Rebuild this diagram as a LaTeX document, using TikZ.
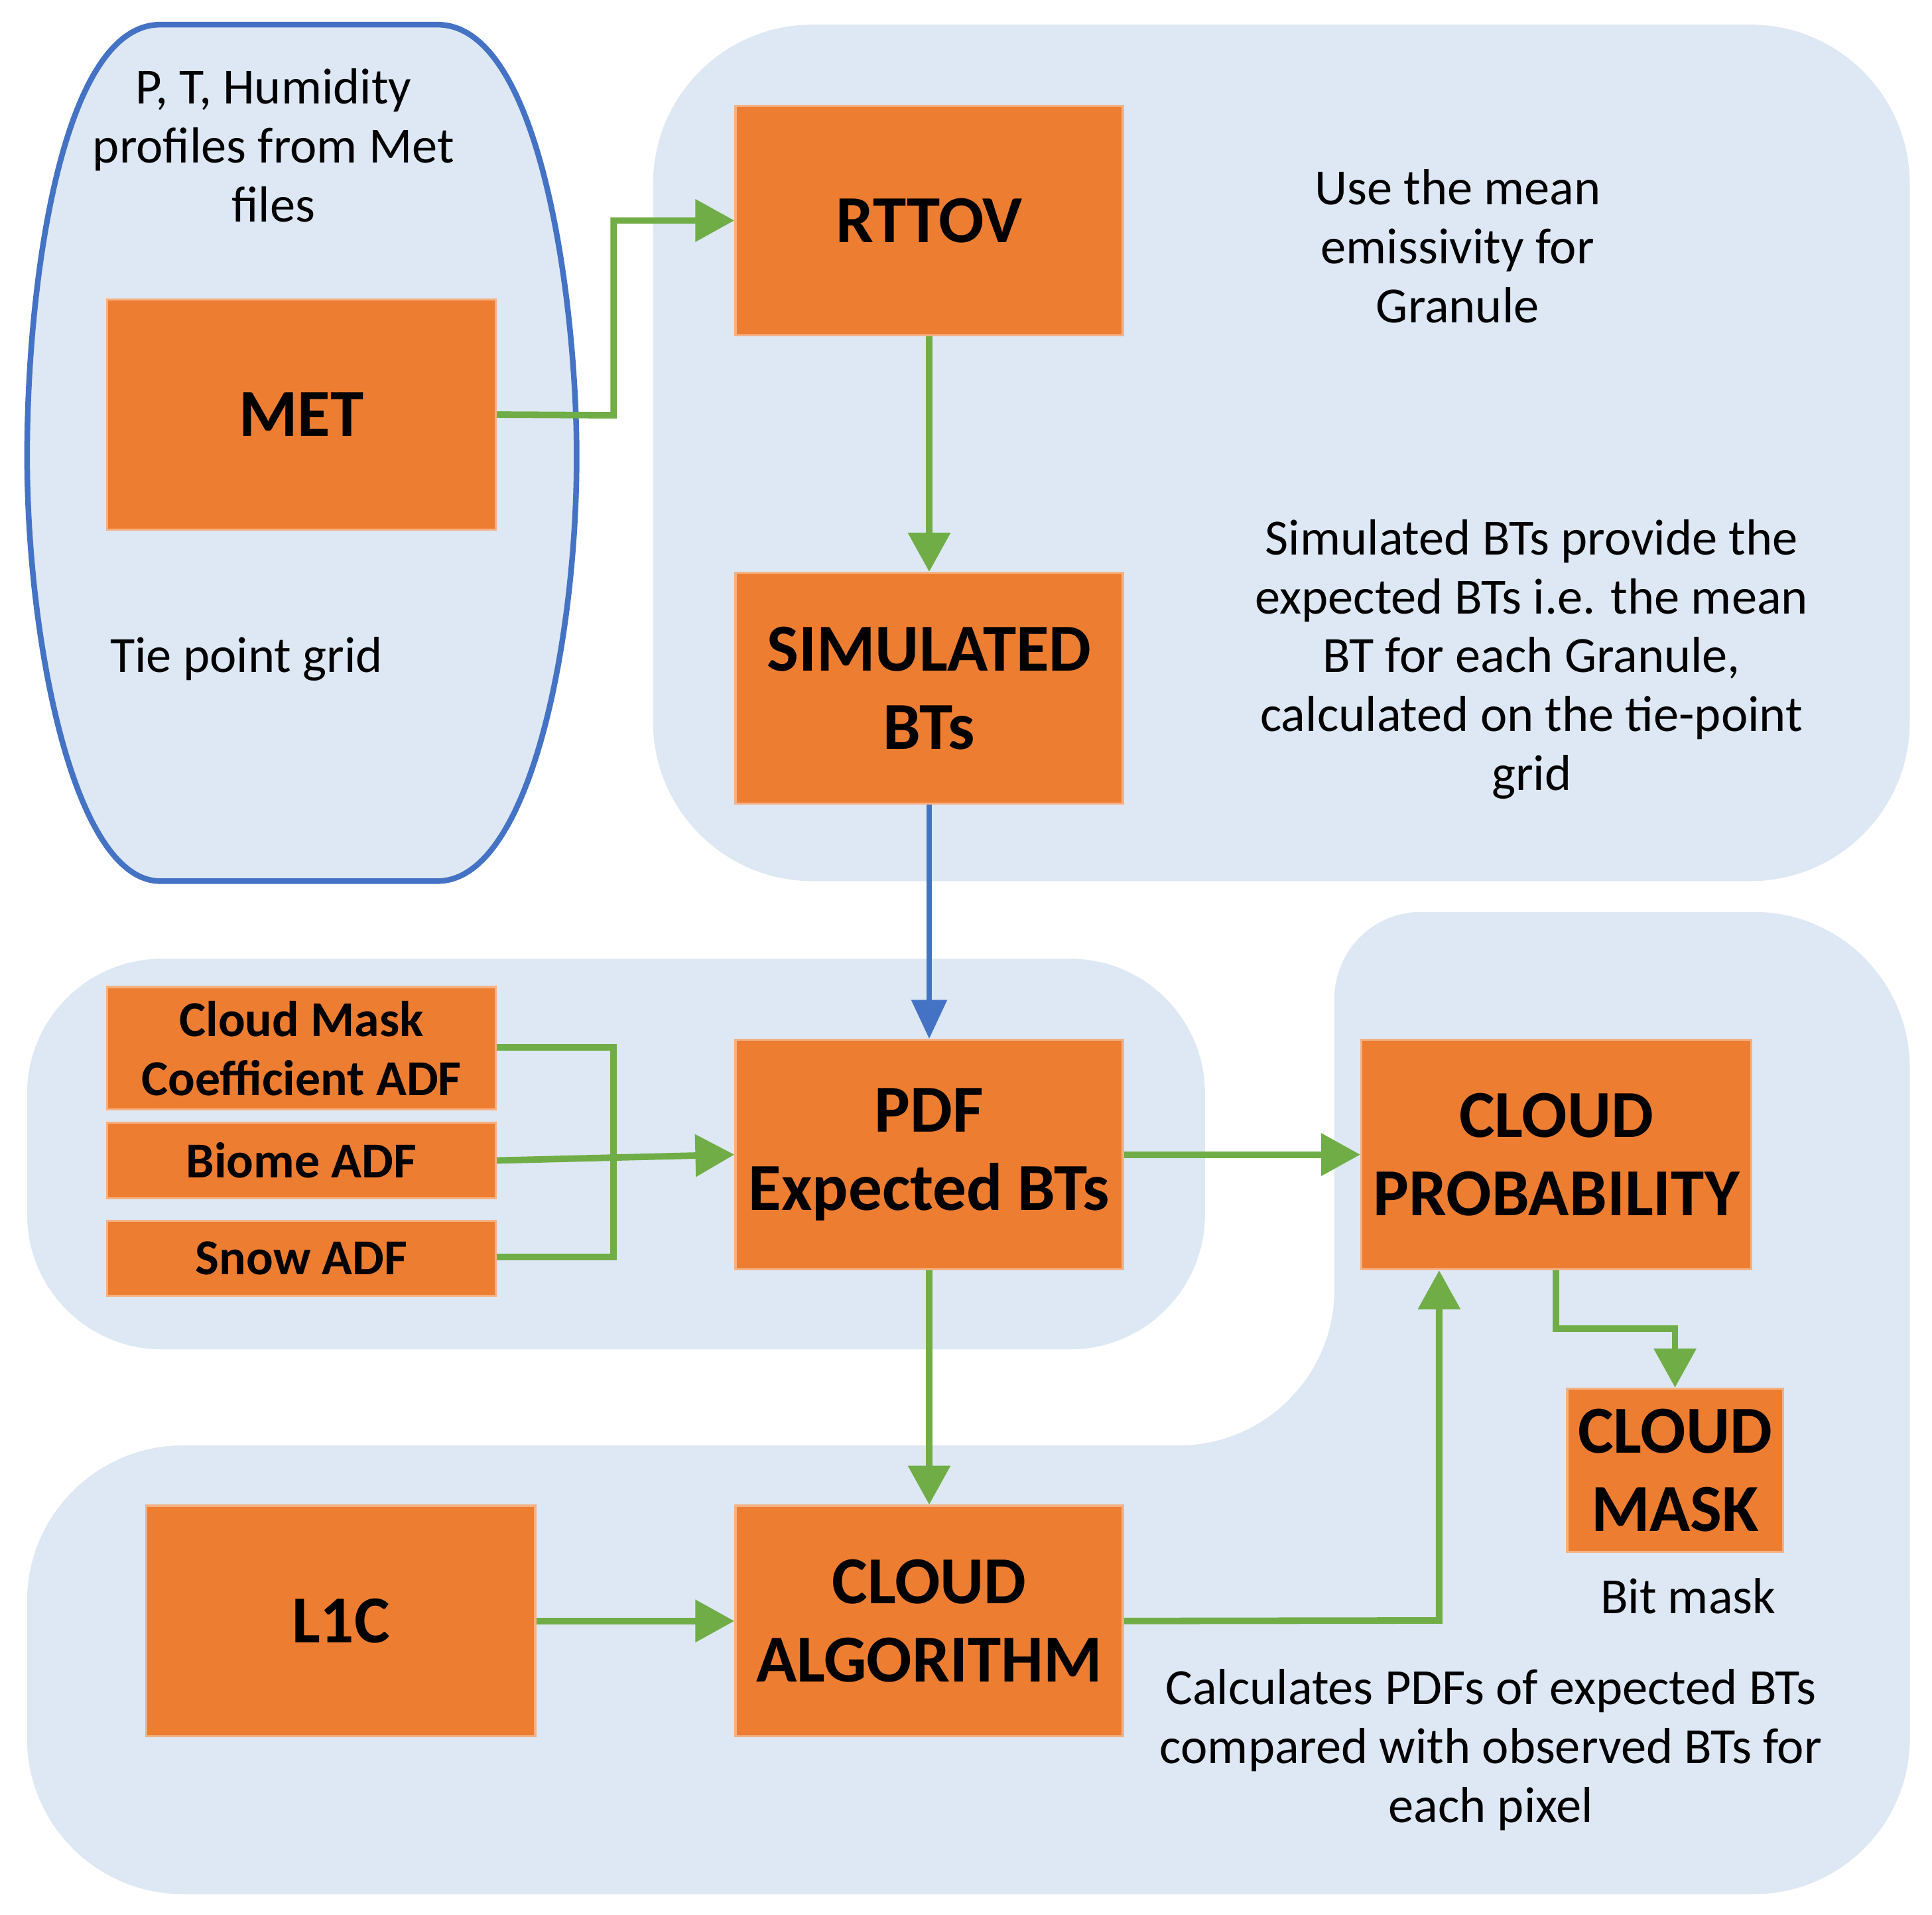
\documentclass[tikz,border=0pt]{standalone}
\usepackage{fontspec}
\setmainfont{Carlito}
\usetikzlibrary{arrows.meta}
\definecolor{bg}{HTML}{DEE8F4}
\definecolor{og}{HTML}{ED7D31}
\definecolor{ogb}{HTML}{F4B183}
\definecolor{gr}{HTML}{70AD47}
\definecolor{bl}{HTML}{4472C4}
\begin{document}
\begin{tikzpicture}[x=0.01cm,y=-0.01cm,
 box/.style={draw=ogb,line width=0.5pt,fill=og,anchor=north west,align=center,font=\fontsize{15.5}{18}\selectfont\bfseries,inner sep=0pt},
 small/.style={box,font=\fontsize{11.6}{13.6}\selectfont\bfseries},
 txt/.style={align=center,font=\fontsize{11.7}{13.6}\selectfont},
 arr/.style={gr,line width=1.5pt,-{Triangle[length=9pt,width=9.5pt]}},
 ln/.style={gr,line width=1.5pt}]
\useasboundingbox (0,0) rectangle (1568,1554);
% backgrounds
\fill[bg,rounded corners=130pt*0.283] (530,20) rectangle (1550,715);
\fill[bg,rounded corners=110pt*0.283] (22,778) rectangle (978,1095);
\fill[bg] (22,1537) [rounded corners=36] -- (22,1173) -- (1083,1173) [rounded corners=20] -- (1083,740) [rounded corners=36] -- (1550,740) -- (1550,1537) -- cycle;
\fill[bg] (22,1537) [rounded corners=36] -- (22,1173) [rounded corners=20]-- (1083,1173) [sharp corners] -- (1083,1300) -- (1550,1300) [rounded corners=36] -- (1550,1537) -- cycle;
\filldraw[fill=bg,draw=bl,line width=1.3pt] (130,20) -- (355,20) .. controls (440,20) and (468,250) .. (468,370) .. controls (468,520) and (430,715) .. (355,715) -- (130,715) .. controls (60,715) and (22,520) .. (22,370) .. controls (22,230) and (50,20) .. (130,20) -- cycle;
% boxes
\node[box,minimum width=317*0.283pt,minimum height=188*0.283pt] (met) at (86,242) {MET};
\node[box,minimum width=316*0.283pt,minimum height=187*0.283pt] (rttov) at (596,85) {RTTOV};
\node[box,minimum width=316*0.283pt,minimum height=188*0.283pt] (sim) at (596,464) {SIMULATED\\BTs};
\node[box,minimum width=316*0.283pt,minimum height=187*0.283pt] (pdf) at (596,843) {PDF\\Expected BTs};
\node[small,minimum width=317*0.283pt,minimum height=100*0.283pt] (cmc) at (86,800) {Cloud Mask\\Coefficient ADF};
\node[small,minimum width=317*0.283pt,minimum height=62*0.283pt] (bio) at (86,910) {Biome ADF};
\node[small,minimum width=317*0.283pt,minimum height=61*0.283pt] (snow) at (86,990) {Snow ADF};
\node[box,minimum width=318*0.283pt,minimum height=187*0.283pt] (cp) at (1104,843) {CLOUD\\PROBABILITY};
\node[box,minimum width=176*0.283pt,minimum height=133*0.283pt] (cm) at (1271,1126) {CLOUD\\MASK};
\node[box,minimum width=317*0.283pt,minimum height=188*0.283pt] (l1c) at (118,1221) {L1C};
\node[box,minimum width=316*0.283pt,minimum height=188*0.283pt] (alg) at (596,1221) {CLOUD\\ALGORITHM};
% texts
\node[txt] (t1) at (222,118) {P, T, Humidity\\profiles from Met\\files};
\node[txt] (t2) at (200,535) {Tie point grid};
\node[txt] (t3) at (1183,200) {Use the mean\\emissivity for\\Granule};
\node[txt] (t4) at (1243,535) {Simulated BTs provide the\\expected BTs i.e. the mean\\BT for each Granule,\\calculated on the tie-point\\grid};
\node[txt] (t5) at (1370,1295) {Bit mask};
\node[txt] (t6) at (1210,1420) {Calculates PDFs of expected BTs\\compared with observed BTs for\\each pixel};
% connectors
\coordinate (j1) at (498,337);
\draw[arr] (met.east) -- (j1) |- (rttov.west);
\draw[arr] (rttov.south) -- (sim.north);
\draw[bl,line width=1.3pt,-{Triangle[length=9pt,width=8pt]}] (sim.south) -- (pdf.north);
\coordinate (j2) at (498,850);
\coordinate (j3) at (498,1020);
\draw[ln] (cmc.east |- j2) -- (j2) -- (j3) -- (snow.east |- j3);
\draw[arr] (bio.east) -- (pdf.west);
\draw[arr] (pdf.east) -- (cp.west);
\draw[arr] (pdf.south) -- (alg.north);
\draw[arr] (l1c.east) -- (alg.west);
\coordinate (j4) at (1168,1315);
\draw[arr] (alg.east) -- (j4) -- (j4 |- cp.south);
\coordinate (j5) at (1263,1078);
\draw[arr] (cp.south -| j5) -- (j5) -| (cm.north);
\end{tikzpicture}
\end{document}
